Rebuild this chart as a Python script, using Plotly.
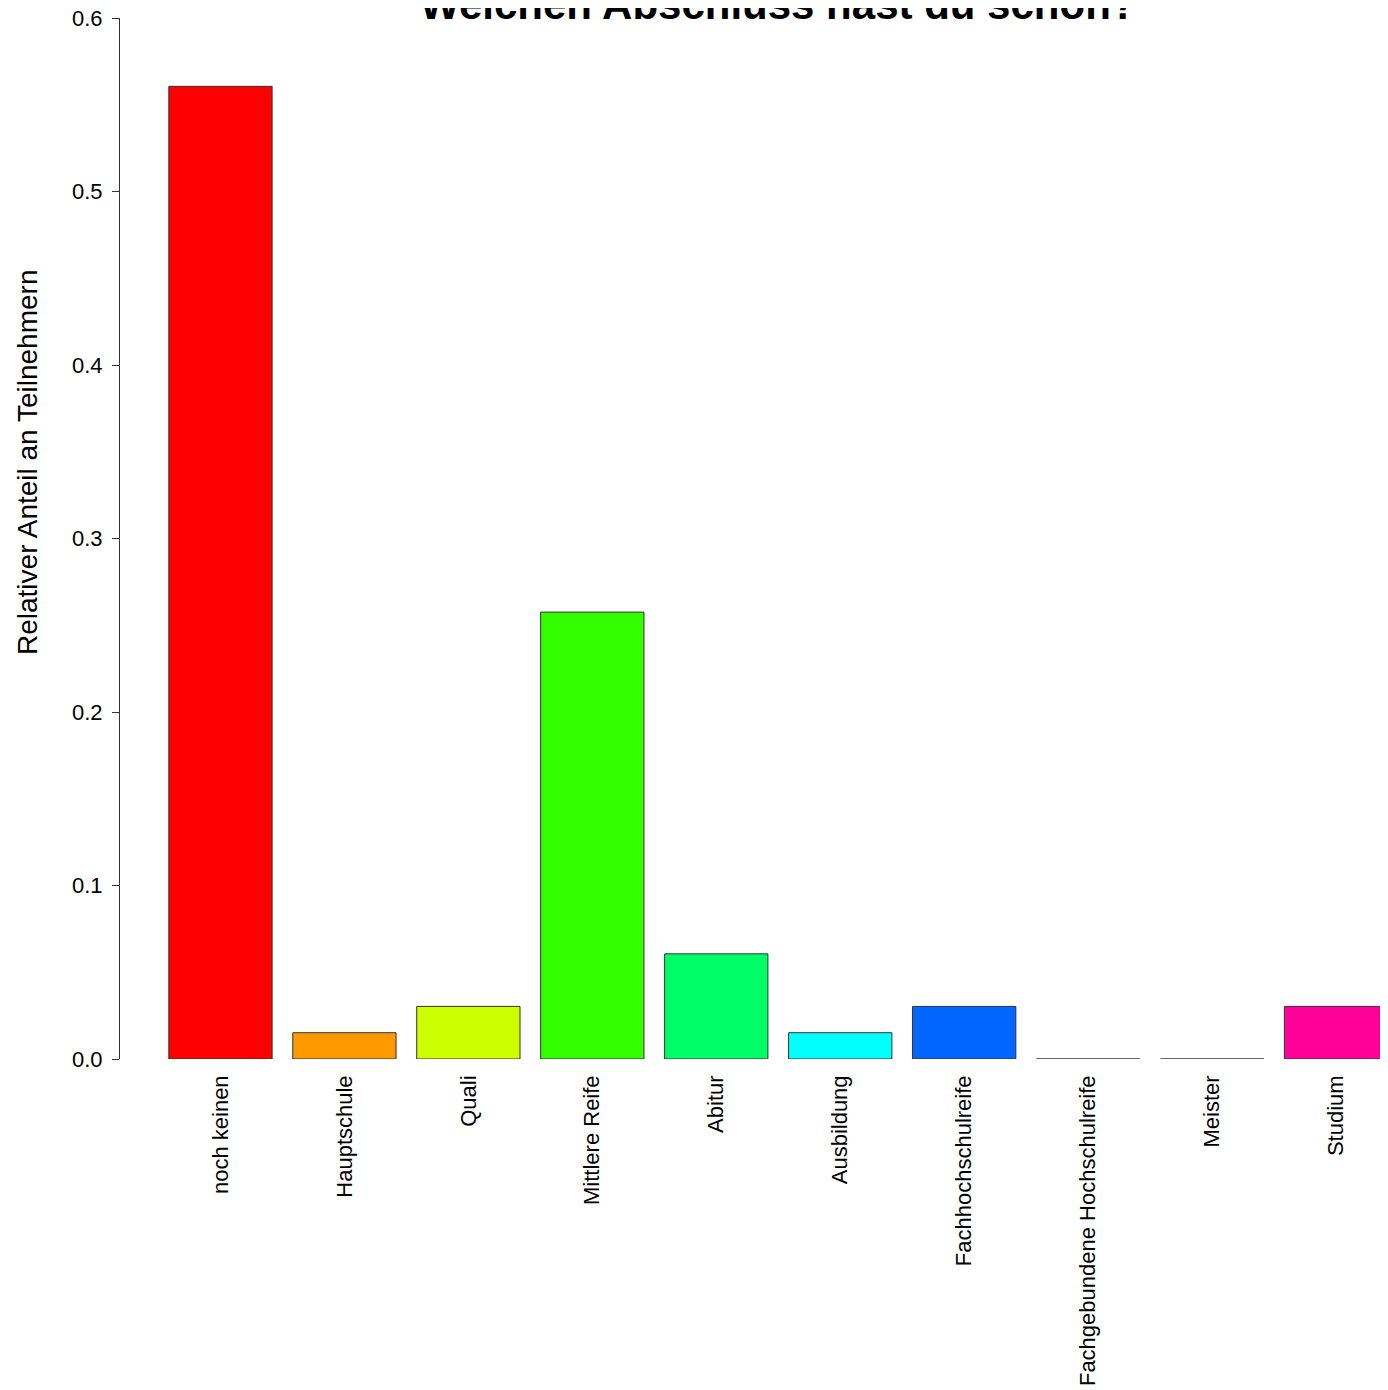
import plotly.graph_objects as go

categories = ["noch keinen", "Hauptschule", "Quali", "Mittlere Reife", "Abitur",
              "Ausbildung", "Fachhochschulreife", "Fachgebundene Hochschulreife",
              "Meister", "Studium"]
counts = [37, 1, 2, 17, 4, 1, 2, 0, 0, 2]
total = sum(counts)
shares = [c / total for c in counts]
colors = ["#FF0000", "#FF9900", "#CCFF00", "#33FF00", "#00FF66",
          "#00FFFF", "#0066FF", "#3300FF", "#CC00FF", "#FF0099"]
y_ticks = [0.0, 0.1, 0.2, 0.3, 0.4, 0.5, 0.6]
y_ticktext = ["0.0", "0.1", "0.2", "0.3", "0.4", "0.5", "0.6"]

title_text = "Welchen Abschluss hast du schon?"
ylab = "Relativer Anteil an Teilnehmern"

FONT = "Liberation Sans, Arial, sans-serif"

fig = go.Figure()
fig.add_trace(go.Bar(
    x=categories, y=shares,
    marker=dict(color=colors, line=dict(color="#333333", width=1)),
    showlegend=False, hoverinfo="x+y",
))

W, H = 1388, 1390
# page is offset by 8px body margin
L, R, T, B = 112, 8, 10, 339
PW = W - L - R          # 1268
PH = H - T - B          # 1041
PB = 1059               # page pixel of plot bottom
PL = 120                # page pixel of plot left

fig.update_layout(
    width=W, height=H,
    margin=dict(l=L, r=R, t=T, b=B, pad=0, autoexpand=False),
    paper_bgcolor="white", plot_bgcolor="white",
    bargap=1/6,
    font=dict(family=FONT, color="black"),
    xaxis=dict(
        type="category",
        range=[-0.8105, 9.419],
        showline=False, showgrid=False, zeroline=False,
        ticks="", tickangle=-90,
        tickfont=dict(size=22, family=FONT, color="black"),
        ticklabelstandoff=11,
        ticklabeloverflow="allow",
        automargin=False,
    ),
    yaxis=dict(
        range=[0, 0.6],
        tickvals=y_ticks, ticktext=y_ticktext,
        showline=True, linecolor="#333333", linewidth=1,
        ticks="outside", ticklen=7, tickcolor="#333333", tickwidth=1,
        showgrid=False, zeroline=False,
        tickfont=dict(size=22, family=FONT, color="black"),
        ticklabelstandoff=5,
        ticklabeloverflow="allow",
        automargin=False,
    ),
    annotations=[
        dict(text=ylab, textangle=-90, xref="paper", yref="paper",
             x=(27 - PL) / PW, y=(PB - 463) / PH,
             xanchor="center", yanchor="middle", showarrow=False,
             font=dict(size=28, family=FONT, color="black")),
        dict(text="<b>" + title_text + "</b>", xref="paper", yref="paper",
             x=(778 - PL) / PW, y=(PB - 30) / PH,
             xanchor="center", yanchor="bottom", showarrow=False,
             font=dict(size=42, family=FONT, color="black")),
    ],
)

fig.write_html("out.html")
